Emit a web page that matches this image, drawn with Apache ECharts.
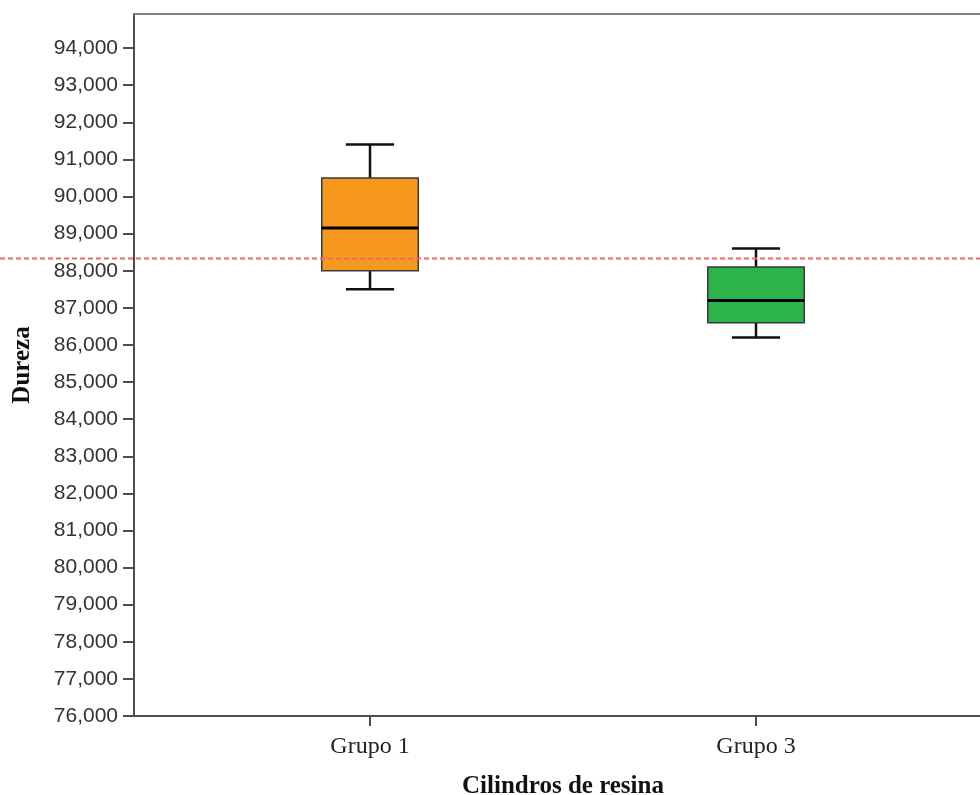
<!DOCTYPE html>
<html>
<head>
<meta charset="utf-8">
<script src="https://cdn.jsdelivr.net/npm/echarts@6/dist/echarts.min.js"></script>
<style>html,body{margin:0;padding:0;background:#fff}#c{width:980px;height:795px}</style>
</head>
<body>
<div id="c"></div>
<script>
const categories = ['Grupo 1', 'Grupo 3'];
const whiskerLow = [87.5, 86.2];
const q1 = [88.0, 86.6];
const median = [89.15, 87.2];
const q3 = [90.5, 88.1];
const whiskerHigh = [91.4, 88.6];
const boxColors = ['#F7981E', '#2CB34A'];
const refValue = 88.33;
const yMin = 76;
const yMax = 94.92;
const yTicks = [76, 77, 78, 79, 80, 81, 82, 83, 84, 85, 86, 87, 88, 89, 90, 91, 92, 93, 94];

const chart = echarts.init(document.getElementById('c'));
const axisColor = '#4d4d4d';
const fmt = v => v.toFixed(3).replace('.', ',');

const boxData = categories.map((c, i) => [i, whiskerLow[i], q1[i], median[i], q3[i], whiskerHigh[i]]);

function renderBox(params, api) {
  const i = api.value(0);
  const lo = api.coord([i, api.value(1)]);
  const b1 = api.coord([i, api.value(2)]);
  const md = api.coord([i, api.value(3)]);
  const b3 = api.coord([i, api.value(4)]);
  const hi = api.coord([i, api.value(5)]);
  const x = lo[0];
  const bw = api.size([1, 0])[0] * 0.25;
  const cap = bw / 2;
  const wStyle = {stroke: '#111', lineWidth: 2.5};
  return {
    type: 'group',
    children: [
      {type: 'line', shape: {x1: x, y1: hi[1], x2: x, y2: b3[1]}, style: wStyle},
      {type: 'line', shape: {x1: x, y1: b1[1], x2: x, y2: lo[1]}, style: wStyle},
      {type: 'line', shape: {x1: x - cap / 2, y1: hi[1], x2: x + cap / 2, y2: hi[1]}, style: wStyle},
      {type: 'line', shape: {x1: x - cap / 2, y1: lo[1], x2: x + cap / 2, y2: lo[1]}, style: wStyle},
      {type: 'rect', shape: {x: x - bw / 2, y: b3[1], width: bw, height: b1[1] - b3[1]},
        style: {fill: boxColors[params.dataIndex], stroke: '#3a3a3a', lineWidth: 1.5}},
      {type: 'line', shape: {x1: x - bw / 2, y1: md[1], x2: x + bw / 2, y2: md[1]}, style: {stroke: '#000', lineWidth: 3}}
    ]
  };
}

chart.setOption({
  animation: false,
  grid: [
    {left: 134, right: 0, top: 14, bottom: 79, outerBoundsMode: 'none', containLabel: false},
    {left: 177, right: 31, top: 14, bottom: 79, outerBoundsMode: 'none', containLabel: false},
    {left: 0, right: 0, top: 14, bottom: 79, outerBoundsMode: 'none', containLabel: false}
  ],
  xAxis: [
    {gridIndex: 0, type: 'value', min: 0, max: 1, position: 'bottom',
      axisLine: {show: true, onZero: false, lineStyle: {color: axisColor, width: 2}},
      axisTick: {show: false}, axisLabel: {show: false}, splitLine: {show: false}},
    {gridIndex: 0, type: 'value', min: 0, max: 1, position: 'top',
      axisLine: {show: true, onZero: false, lineStyle: {color: '#808080', width: 2}},
      axisTick: {show: false}, axisLabel: {show: false}, splitLine: {show: false}},
    {gridIndex: 1, type: 'category', data: categories, position: 'bottom',
      axisLine: {show: false, onZero: false},
      axisTick: {show: true, alignWithLabel: true, length: 10, lineStyle: {color: axisColor, width: 2}},
      axisLabel: {margin: 19, fontFamily: 'Liberation Serif', fontSize: 24, color: '#222'},
      name: 'Cilindros de resina', nameLocation: 'middle', nameGap: 58,
      nameTextStyle: {fontFamily: 'Liberation Serif', fontWeight: 'bold', fontSize: 25, color: '#111'}},
    {gridIndex: 2, type: 'value', min: 0, max: 1, show: false}
  ],
  yAxis: [
    {gridIndex: 0, type: 'value', min: yMin, max: yMax,
      axisLine: {show: true, lineStyle: {color: axisColor, width: 2}},
      axisTick: {show: true, length: 11, customValues: yTicks, lineStyle: {color: axisColor, width: 2}},
      axisLabel: {customValues: yTicks, formatter: fmt, margin: 16, fontFamily: 'Liberation Sans', fontSize: 21, color: '#333'},
      splitLine: {show: false},
      name: 'Dureza', nameLocation: 'middle', nameGap: 99, nameRotate: 90,
      nameTextStyle: {fontFamily: 'Liberation Serif', fontWeight: 'bold', fontSize: 25, color: '#111'}},
    {gridIndex: 1, type: 'value', min: yMin, max: yMax, show: false},
    {gridIndex: 2, type: 'value', min: yMin, max: yMax, show: false}
  ],
  series: [
    {type: 'custom', xAxisIndex: 2, yAxisIndex: 1, data: boxData, renderItem: renderBox, z: 2},
    {type: 'line', xAxisIndex: 3, yAxisIndex: 2, data: [[0, refValue], [1, refValue]], symbol: 'none',
      lineStyle: {type: [5, 3], color: '#F0666E', width: 2}, z: 5, silent: true}
  ]
});
</script>
</body>
</html>
